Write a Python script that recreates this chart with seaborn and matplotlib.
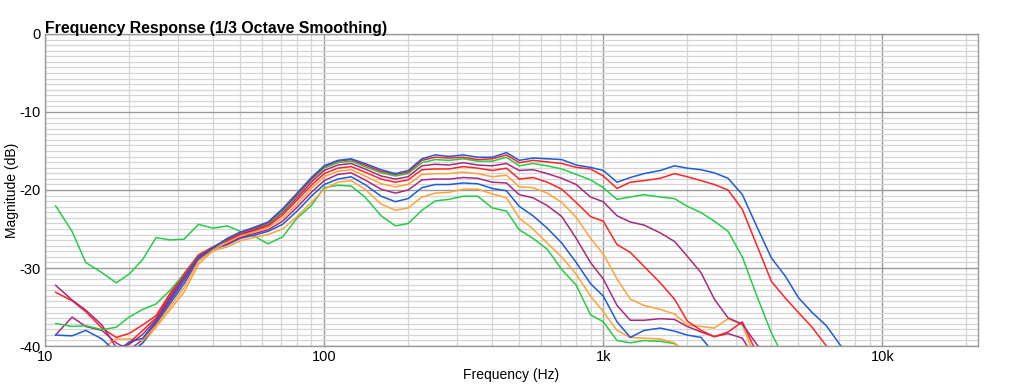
import numpy as np
import pandas as pd
import matplotlib
matplotlib.use("Agg")
import matplotlib.pyplot as plt
import matplotlib.ticker as mticker
import seaborn as sns

freqs = [10.9, 12.5, 14, 16, 18, 20, 22.4, 25, 28, 31.5, 35.5, 40, 45, 50, 56, 63, 71, 80, 90,
         100, 112, 125, 140, 160, 180, 200, 224, 250, 280, 315, 355, 400, 450, 500, 560, 630,
         710, 800, 900, 1000, 1120, 1250, 1400, 1600, 1800, 2000, 2240, 2500, 2800, 3150, 3550,
         4000, 4500, 5000, 5600, 6300, 7100, 8000]

c1_blue = [-38.6, -38.7, -38.0, -39.1, -40.8, -39.5, -39.0, -36.8, -34.0, -31.3, -28.6, -27.4, -26.2,
           -25.4, -24.8, -24.1, -22.4, -20.4, -18.4, -16.9, -16.2, -16.0, -16.6, -17.4, -17.9, -17.5,
           -16.0, -15.5, -15.7, -15.5, -15.8, -15.8, -15.2, -16.2, -15.9, -16.0, -16.1, -16.8, -17.1,
           -17.5, -19.0, -18.4, -17.9, -17.5, -16.9, -17.2, -17.4, -17.8, -18.5, -20.6, -24.7, -28.7,
           -31.1, -33.8, -35.7, -37.4, -40.0, -42.0]
c2_red = [-42.0, -42.0, -42.0, -42.0, -41.0, -39.6, -38.0, -36.4, -33.5, -30.9, -28.4, -27.3, -26.3,
          -25.5, -24.9, -24.2, -22.5, -20.6, -18.6, -17.0, -16.3, -16.1, -16.8, -17.6, -18.0, -17.7,
          -16.2, -15.8, -15.9, -15.8, -16.1, -16.0, -15.5, -16.5, -16.2, -16.4, -16.6, -17.1, -17.3,
          -18.2, -19.8, -19.0, -18.8, -18.5, -17.9, -18.3, -18.8, -19.3, -20.0, -22.5, -27.1, -31.7,
          -33.9, -35.7, -37.6, -40.0, -42.0]
c3_green = [-37.1, -37.5, -37.4, -37.9, -37.6, -36.3, -35.3, -34.6, -32.9, -30.8, -28.4, -27.4, -26.3,
            -25.5, -24.9, -24.3, -22.7, -20.7, -18.7, -17.2, -16.5, -16.3, -17.0, -17.8, -18.2, -17.9,
            -16.5, -16.1, -16.2, -16.0, -16.3, -16.3, -15.8, -16.9, -16.6, -16.9, -17.3, -18.0, -18.7,
            -19.7, -21.2, -20.9, -20.6, -20.9, -21.1, -22.1, -22.9, -24.0, -25.3, -28.6, -33.6, -38.3,
            -42.0]
c4_purple = [-32.2, -34.1, -35.4, -37.3, -40.2, -39.8, -38.5, -36.6, -33.8, -31.1, -28.5, -27.4, -26.4,
             -25.6, -25.1, -24.4, -22.9, -21.0, -19.0, -17.5, -16.8, -16.6, -17.3, -18.2, -18.6, -18.3,
             -16.9, -16.7, -16.8, -16.5, -16.8, -16.9, -16.6, -17.5, -17.4, -17.9, -18.5, -19.3, -20.9,
             -21.5, -23.3, -24.1, -24.5, -25.5, -26.6, -28.5, -30.6, -34.0, -36.4, -37.2, -39.8, -42.0]
c5_red = [-33.1, -34.2, -35.6, -37.7, -38.9, -38.4, -37.3, -36.1, -33.3, -30.7, -28.3, -27.3, -26.5,
          -25.7, -25.2, -24.6, -23.2, -21.3, -19.4, -17.9, -17.2, -17.0, -17.7, -18.6, -19.0, -18.7,
          -17.4, -17.3, -17.3, -17.0, -17.2, -17.5, -17.2, -18.6, -18.4, -19.0, -19.9, -21.6, -23.4,
          -24.0, -27.0, -28.0, -29.8, -31.9, -34.0, -36.8, -38.0, -38.8, -38.2, -36.9, -41.0]
c6_orange = [-42.0, -42.0, -42.0, -40.3, -39.1, -39.1, -39.3, -37.4, -35.0, -32.5, -29.1, -27.7, -26.7,
             -25.9, -25.4, -24.8, -23.6, -21.8, -19.8, -18.3, -17.6, -17.4, -18.2, -19.2, -19.6, -19.3,
             -18.0, -17.9, -17.9, -17.7, -17.9, -18.3, -18.1, -19.6, -19.7, -20.4, -21.6, -23.5, -26.2,
             -28.2, -31.4, -34.0, -34.8, -35.3, -35.9, -37.3, -37.5, -37.7, -36.5, -37.3, -42.0]
c7_purple = [-38.6, -36.3, -37.5, -38.0, -39.6, -40.5, -39.2, -37.0, -34.3, -31.6, -28.7, -27.5, -26.9,
             -26.1, -25.6, -25.1, -24.0, -22.2, -20.3, -18.8, -18.0, -17.8, -18.7, -19.9, -20.4, -20.0,
             -18.7, -18.6, -18.6, -18.4, -18.5, -19.0, -19.1, -20.6, -21.0, -22.0, -23.4, -26.2, -29.3,
             -31.4, -34.8, -36.7, -36.7, -36.5, -36.6, -37.5, -38.2, -38.8, -38.4, -39.0, -42.0]
c8_blue = [-42.0, -42.0, -42.0, -42.0, -42.0, -41.0, -39.6, -37.2, -34.6, -32.0, -28.9, -27.6, -27.0,
           -26.2, -25.8, -25.3, -24.4, -22.7, -20.8, -19.3, -18.6, -18.3, -19.3, -20.8, -21.5, -21.1,
           -19.7, -19.3, -19.3, -19.1, -19.2, -19.8, -20.1, -22.1, -23.3, -24.9, -26.8, -29.3, -32.0,
           -33.6, -36.9, -38.9, -38.0, -37.7, -38.1, -38.6, -38.9, -41.0]
c9_orange = [-42.0, -42.0, -42.0, -42.0, -42.0, -41.0, -39.6, -37.6, -35.4, -33.1, -29.5, -27.8, -27.3,
             -26.5, -26.1, -25.7, -25.0, -23.4, -21.6, -19.9, -19.0, -18.8, -19.9, -21.8, -22.6, -22.3,
             -20.9, -20.4, -20.3, -19.9, -19.9, -20.5, -21.0, -23.6, -25.0, -26.8, -28.6, -30.8, -33.6,
             -35.6, -38.0, -38.9, -39.0, -39.1, -39.6, -41.0]
c10_green = [-22.0, -25.3, -29.3, -30.6, -31.9, -30.8, -28.9, -26.1, -26.4, -26.3, -24.4, -24.9, -24.6,
             -25.3, -25.9, -26.9, -26.0, -23.6, -22.0, -19.7, -19.4, -19.5, -20.9, -23.3, -24.6, -24.3,
             -22.6, -21.4, -21.2, -20.8, -20.8, -22.3, -22.7, -25.1, -26.2, -27.6, -30.2, -32.2, -36.0,
             -36.9, -39.3, -39.6, -39.3, -39.4, -39.7, -41.0]

series = {
    "c10": c10_green, "c9": c9_orange, "c8": c8_blue, "c7": c7_purple, "c6": c6_orange,
    "c5": c5_red, "c4": c4_purple, "c3": c3_green, "c2": c2_red, "c1": c1_blue,
}
colors = {
    "c1": "#1f5bd6", "c2": "#ff2424", "c3": "#25cc48", "c4": "#a82a80", "c5": "#ff2424",
    "c6": "#ffa238", "c7": "#a82a80", "c8": "#1f5bd6", "c9": "#ffa238", "c10": "#25cc48",
}

rows = []
for name, vals in series.items():
    for f, v in zip(freqs[:len(vals)], vals):
        rows.append((name, f, v))
df = pd.DataFrame(rows, columns=["curve", "freq", "db"])

sns.set_style("white")
plt.rcParams["font.family"] = ["Liberation Sans", "DejaVu Sans"]
plt.rcParams["axes.unicode_minus"] = False
plt.rcParams["text.color"] = "black"
plt.rcParams["axes.labelcolor"] = "black"

fig = plt.figure(figsize=(10.11, 3.85), dpi=100)
ax = fig.add_axes([45 / 1011, 1 - 346 / 385, 933 / 1011, 312 / 385])

ax.set_xscale("log")
ax.set_xlim(10, 22000)
ax.set_ylim(-40, 0)

# grid
ax.xaxis.set_major_locator(mticker.FixedLocator([10, 100, 1000, 10000]))
ax.xaxis.set_minor_locator(mticker.LogLocator(base=10, subs=np.arange(2, 10), numticks=20))
ax.xaxis.set_major_formatter(mticker.FixedFormatter(["10", "100", "1k", "10k"]))
ax.xaxis.set_minor_formatter(mticker.NullFormatter())
ax.yaxis.set_major_locator(mticker.FixedLocator([0, -10, -20, -30, -40]))
ax.yaxis.set_minor_locator(mticker.FixedLocator(np.linspace(-40, 0, 57)))
ax.grid(which="minor", color="#d4d4d4", lw=0.9)
ax.grid(which="major", color="#999999", lw=1.0)
ax.set_axisbelow(True)

sns.lineplot(data=df, x="freq", y="db", hue="curve", palette=colors, estimator=None,
             sort=False, lw=1.1, legend=False, ax=ax)

ax.tick_params(which="both", length=0, labelsize=10.5, pad=3, colors="black")
for s in ax.spines.values():
    s.set_color("#999999")
    s.set_linewidth(1.0)

ax.set_xlabel("Frequency (Hz)", fontsize=10, labelpad=3)
ax.set_ylabel("Magnitude (dB)", fontsize=10)
ax.yaxis.set_label_coords(-0.028, 0.5)
ax.set_title("Frequency Response (1/3 Octave Smoothing)", loc="left", fontsize=11.4,
             fontweight="bold", pad=1)

fig.savefig("out.png", dpi=100)
